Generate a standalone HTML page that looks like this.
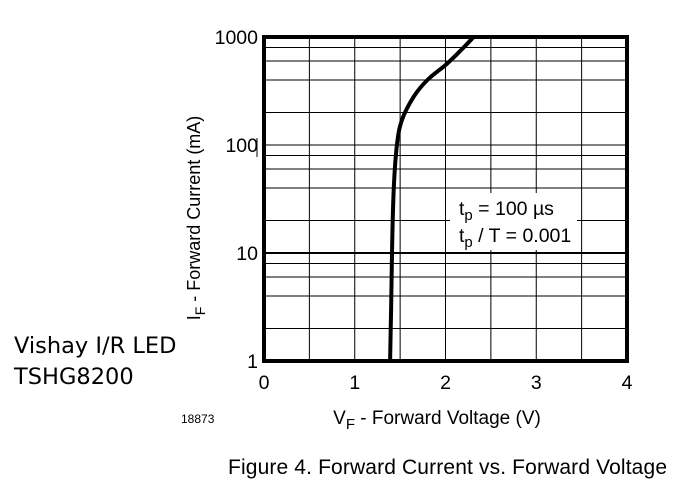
<!DOCTYPE html>
<html><head><meta charset="utf-8"><style>
body{margin:0;background:#fff;width:698px;height:500px;overflow:hidden}
svg{display:block}
</style></head><body>
<svg width="698" height="500" viewBox="0 0 698 500" font-family="Liberation Sans, Arial, sans-serif">
<g id="grid"></g>
<g id="curve"></g>
<g id="ticks"></g>
<rect x="450" y="193" width="127" height="57" fill="#fff"/>
<text x="459" y="215" font-size="19.5">t<tspan font-size="15" dy="5">p</tspan><tspan dy="-5"> = 100 µs</tspan></text>
<text x="459" y="242" font-size="19.5">t<tspan font-size="15" dy="5">p</tspan><tspan dy="-5"> / T = 0.001</tspan></text>
<rect id="frame" x="264" y="37" width="363" height="324" fill="none" stroke="#000" stroke-width="4"/>
<line x1="257" y1="138" x2="257" y2="157" stroke="#000" stroke-width="1"/>
<text transform="translate(200,218) rotate(-90)" text-anchor="middle" font-size="18">I<tspan font-size="14" dy="5">F</tspan><tspan dy="-5"> - Forward Current (mA)</tspan></text>
<text x="437" y="424" text-anchor="middle" font-size="19">V<tspan font-size="15" dy="5">F</tspan><tspan dy="-5"> - Forward Voltage (V)</tspan></text>
<text x="181" y="423" font-size="12">18873</text>
<text x="14" y="353" font-size="22.5" font-family="DejaVu Sans, sans-serif">Vishay I/R LED</text>
<text x="14" y="384" font-size="22.5" font-family="DejaVu Sans, sans-serif">TSHG8200</text>
<text x="228" y="474" font-size="21" textLength="439">Figure 4. Forward Current vs. Forward Voltage</text>
</svg>
<script>
const xTicks=[0,1,2,3,4];
const yTicks=[1,10,100,1000];
const seriesV=[1.39,1.40,1.41,1.43,1.465,1.52,1.65,1.8,2.01,2.16,2.31];
const seriesI=[1,3,10,40,100,170,280,400,560,740,1000];
const X0=264,X1=627,Y0=361,Y1=37;
function xs(v){return X0+(v-0)/(4-0)*(X1-X0);}
function ys(i){return Y0-(Math.log10(i)-0)/3*(Y0-Y1);}
const NS="http://www.w3.org/2000/svg";
const grid=document.getElementById('grid');
for(let v=0.5;v<4;v+=0.5){
 const l=document.createElementNS(NS,'line');
 
 
 l.setAttribute('x1',xs(v));l.setAttribute('x2',xs(v));l.setAttribute('y1',Y1);l.setAttribute('y2',Y0);
 l.setAttribute('stroke','#000');l.setAttribute('stroke-width','1');grid.appendChild(l);
}
for(let d=0;d<3;d++){
 [1,2,4,6,8].forEach(m=>{
  const val=m*Math.pow(10,d);
  if(val===1)return;
  const l=document.createElementNS(NS,'line');
  
  
  l.setAttribute('x1',X0);l.setAttribute('x2',X1);l.setAttribute('y1',ys(val));l.setAttribute('y2',ys(val));
  l.setAttribute('stroke','#000');l.setAttribute('stroke-width',val===10?'2':'1');grid.appendChild(l);
 });
}
const tk=document.getElementById('ticks');
xTicks.forEach(v=>{
 const t=document.createElementNS(NS,'text');
 
 
 t.setAttribute('x',xs(v));t.setAttribute('y',389);t.setAttribute('text-anchor','middle');t.setAttribute('font-size','19.5');
 t.textContent=v;tk.appendChild(t);
});
yTicks.forEach(v=>{
 const t=document.createElementNS(NS,'text');
 
 
 t.setAttribute('x',258);t.setAttribute('y',ys(v)+7);t.setAttribute('text-anchor','end');t.setAttribute('font-size','19.5');
 t.textContent=v;tk.appendChild(t);
});
let pts=seriesV.map((v,k)=>[xs(v),ys(seriesI[k])]);
let d='M'+pts[0][0].toFixed(1)+','+pts[0][1].toFixed(1);
for(let k=0;k<pts.length-1;k++){
 const p0=pts[k-1]||pts[k],p1=pts[k],p2=pts[k+1],p3=pts[k+2]||p2;
 const c1=[p1[0]+(p2[0]-p0[0])/6,p1[1]+(p2[1]-p0[1])/6];
 const c2=[p2[0]-(p3[0]-p1[0])/6,p2[1]-(p3[1]-p1[1])/6];
 d+='C'+c1[0].toFixed(1)+','+c1[1].toFixed(1)+' '+c2[0].toFixed(1)+','+c2[1].toFixed(1)+' '+p2[0].toFixed(1)+','+p2[1].toFixed(1);
}
const p=document.createElementNS(NS,'path');


p.setAttribute('d',d);p.setAttribute('fill','none');p.setAttribute('stroke','#000');p.setAttribute('stroke-width','4');p.setAttribute('stroke-linejoin','round');
document.getElementById('curve').appendChild(p);
</script>
</body></html>
